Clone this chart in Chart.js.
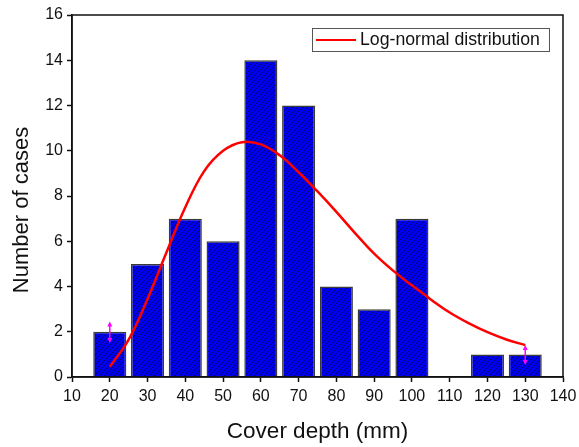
<!DOCTYPE html>
<html>
<head>
<meta charset="utf-8">
<script src="https://cdn.jsdelivr.net/npm/chart.js@4.4.0/dist/chart.umd.min.js"></script>
<style>
  html, body { margin: 0; padding: 0; background: #fff; }
  #wrap { width: 579px; height: 447px; }
</style>
</head>
<body>
<div id="wrap"><canvas id="myChart" width="579" height="447"></canvas></div>
<script>
// histogram bins (cover depth, mm) and counts
const binCenters = [20, 30, 40, 50, 60, 70, 80, 90, 100, 110, 120, 130]
const counts = [2, 5, 7, 6, 14, 12, 4, 3, 7, 0, 1, 1]

// fitted log-normal curve
const curveX = [20, 25, 30, 35, 40, 45, 50, 55, 60, 65, 70, 75, 80, 85, 90, 95, 100, 105, 110, 115, 120, 125, 130]
const curveY = [0.45, 1.65, 3.45, 5.5, 7.5, 9.1, 10.0, 10.38, 10.28, 9.8, 9.05, 8.2, 7.3, 6.35, 5.45, 4.7, 4.05, 3.43, 2.85, 2.38, 1.98, 1.66, 1.41]

// magenta arrows at the two end bins
const arrowX = [20, 130]
const arrowLow = [1.5, 0.53]
const arrowHigh = [2.45, 1.41]

const xTicks = [10, 20, 30, 40, 50, 60, 70, 80, 90, 100, 110, 120, 130, 140]
const yTicks = [0, 2, 4, 6, 8, 10, 12, 14, 16]

const FONT = "'Liberation Sans', Arial, sans-serif"

const makeHatch = () => {
    let c = document.createElement('canvas')
    c.width = 5
    c.height = 5
    let g = c.getContext('2d')
    g.fillStyle = '#0000f0'
    g.fillRect(0, 0, 5, 5)
    g.strokeStyle = '#000060'
    g.lineWidth = 0.8
    g.beginPath()
    g.moveTo(-1, 6); g.lineTo(6, -1)
    g.moveTo(-1, 1); g.lineTo(1, -1)
    g.moveTo(4, 6); g.lineTo(6, 4)
    g.stroke()
    return g.createPattern(c, 'repeat')
}

let canvas = document.getElementById('myChart')
let hatch = makeHatch()

let barData = []
binCenters.map((x, i) => {
    if (counts[i] > 0) barData.push({x: x, y: counts[i]})
})
let lineData = curveX.map((x, i) => ({x: x, y: curveY[i]}))

const framePlugin = {
    id: 'frame',
    afterDatasetsDraw(chart) {
        const {ctx, scales: {x, y}} = chart
        ctx.save()
        ctx.strokeStyle = '#ff00ff'
        ctx.fillStyle = '#ff00ff'
        ctx.lineWidth = 1.5
        arrowX.map((ax, i) => {
            let px = x.getPixelForValue(ax)
            let top = y.getPixelForValue(arrowHigh[i])
            let bot = y.getPixelForValue(arrowLow[i])
            ctx.beginPath()
            ctx.moveTo(px, top + 3); ctx.lineTo(px, bot - 3)
            ctx.stroke()
            ctx.beginPath()
            ctx.moveTo(px, top); ctx.lineTo(px - 2.5, top + 5); ctx.lineTo(px + 2.5, top + 5); ctx.closePath()
            ctx.moveTo(px, bot); ctx.lineTo(px - 2.5, bot - 5); ctx.lineTo(px + 2.5, bot - 5); ctx.closePath()
            ctx.fill()
        })
        ctx.restore()
    },
    afterDraw(chart) {
        const {ctx, chartArea: a} = chart
        ctx.save()
        ctx.strokeStyle = '#111'
        ctx.lineWidth = 1.5
        ctx.strokeRect(a.left, a.top, a.right - a.left, a.bottom - a.top)

        // y axis title, sits a bit below the axis middle in the original
        ctx.save()
        ctx.translate(22, 210)
        ctx.rotate(-Math.PI / 2)
        ctx.font = '22px ' + FONT
        ctx.fillStyle = '#111'
        ctx.textAlign = 'center'
        ctx.textBaseline = 'middle'
        ctx.fillText('Number of cases', 0, 0)
        ctx.restore()

        // legend box
        let lx = 312, ly = 28, lw = 237, lh = 23
        ctx.lineWidth = 1
        ctx.strokeStyle = '#555'
        ctx.strokeRect(lx + 0.5, ly + 0.5, lw, lh)
        ctx.strokeStyle = '#ff0000'
        ctx.lineWidth = 2
        ctx.beginPath()
        ctx.moveTo(lx + 4, ly + 12); ctx.lineTo(lx + 44, ly + 12)
        ctx.stroke()
        ctx.fillStyle = '#111'
        ctx.font = '17.7px ' + FONT
        ctx.textBaseline = 'middle'
        ctx.fillText('Log-normal distribution', lx + 48, ly + 12.5)
        ctx.restore()
    }
}

new Chart(canvas, {
    data: {
        datasets: [
            {
                type: 'line',
                label: 'Log-normal distribution',
                data: lineData,
                borderColor: '#ff0000',
                borderWidth: 2.5,
                pointRadius: 0,
                tension: 0.4,
                fill: false,
                order: 0
            },
            {
                type: 'bar',
                label: 'Number of cases',
                data: barData,
                backgroundColor: hatch,
                borderColor: '#3a3a3a',
                borderWidth: 1.5,
                barPercentage: 0.875,
                categoryPercentage: 1,
                order: 1
            }
        ]
    },
    options: {
        responsive: false,
        animation: false,
        layout: {
            padding: {top: 15, right: 16, left: 0, bottom: 0}
        },
        plugins: {
            legend: {display: false},
            tooltip: {enabled: false}
        },
        scales: {
            x: {
                type: 'linear',
                min: 10,
                max: 140,
                offset: false,
                afterBuildTicks: scale => { scale.ticks = xTicks.map(v => ({value: v})) },
                afterFit: scale => {
                    scale.height = 70
                    scale.paddingRight = 0
                    scale.paddingLeft = 0
                },
                grid: {offset: false, drawOnChartArea: false, drawTicks: true, tickLength: 5, color: '#111', tickWidth: 1.5},
                border: {display: true, color: '#111', width: 1.5},
                ticks: {
                    font: {family: FONT, size: 16},
                    color: '#111',
                    padding: 5,
                    maxRotation: 0,
                    autoSkip: false
                },
                title: {
                    display: true,
                    text: 'Cover depth (mm)',
                    font: {family: FONT, size: 22.5},
                    color: '#111',
                    padding: {top: 0, bottom: 2}
                }
            },
            y: {
                min: 0,
                max: 16,
                afterBuildTicks: scale => { scale.ticks = yTicks.map(v => ({value: v})) },
                afterFit: scale => { scale.width = 72 },
                grid: {drawOnChartArea: false, drawTicks: true, tickLength: 5, color: '#111', tickWidth: 1.5},
                border: {display: true, color: '#111', width: 1.5},
                ticks: {
                    font: {family: FONT, size: 16},
                    color: '#111',
                    padding: 4
                }
            }
        }
    },
    plugins: [framePlugin]
})
</script>
</body>
</html>
